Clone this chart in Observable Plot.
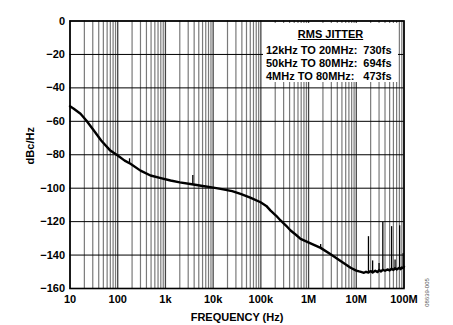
<!DOCTYPE html>
<html><head><meta charset="utf-8">
<script src="https://cdn.jsdelivr.net/npm/d3@7"></script>
<script src="https://cdn.jsdelivr.net/npm/@observablehq/plot@0.6"></script>
<style>
body{margin:0;background:#fff;}
#wrap{position:relative;width:453px;height:325px;font-family:Arial,"Liberation Sans",sans-serif;}
#legend{position:absolute;left:263px;top:23px;width:135px;height:59px;background:#fff;font-weight:bold;font-size:11px;color:#000;}
#legend .row{position:absolute;left:3px;right:6.5px;height:12px;line-height:12px;white-space:nowrap;}
#legend .row .v{position:absolute;right:0;top:0;}
#legend .title{position:absolute;left:0;right:0;text-align:center;height:12px;line-height:12px;}
#legend .title span{text-decoration:underline;}
</style></head><body><div id="wrap"></div>
<script>
const freqHz = [10, 12, 16.6, 22, 31.6, 45, 70, 100, 140, 185, 300, 487, 800, 1280, 2000, 3880, 6000, 8800, 14300, 25000, 37500, 60000, 98600, 130000, 160000, 210000, 259000, 340000, 420000, 550000, 680000, 1.1e6, 1.79e6, 2.9e6, 4.69e6, 7.6e6, 1e7, 1.15e7, 1.3e7, 1.45e7, 1.6e7, 1.8e7, 2e7, 2.2e7, 2.5e7, 2.8e7, 3e7, 3.3e7, 3.6e7, 4e7, 4.5e7, 5e7, 5.5e7, 6e7, 6.5e7, 7e7, 8e7, 8.5e7, 9e7, 9.5e7, 1e8];
const phaseNoise = [-51, -52.5, -55.5, -59.5, -65.5, -71.5, -77.5, -80.5, -83.5, -85.4, -89.5, -92.4, -94, -95.4, -96.5, -97.8, -98.7, -99.4, -100.4, -101.8, -103.4, -105.6, -108.4, -110.6, -113.4, -116.5, -119.3, -122.5, -125.3, -128, -130.3, -133, -135.7, -139.5, -143.5, -147.6, -149.3, -149.8, -150.2, -150.6, -150, -150.5, -149.6, -150.4, -149.4, -150.2, -149, -149.8, -148.8, -149.4, -148.6, -149.2, -148.2, -148.9, -147.8, -148.6, -147.6, -148.4, -147.4, -147.8, -147];
const spikeFreq = [177, 3750, 1.79e6, 1.8e7, 2.2e7, 3e7, 3.6e7, 5.5e7, 6.5e7, 8.1e7, 9.6e7];
const spikeBase = [-85, -97.6, -135.7, -150.3, -150, -149.6, -148.8, -148.2, -147.8, -147.6, -147.2];
const spikeTop = [-82.4, -92.4, -133.7, -129, -143.5, -145, -120.5, -123, -143, -122.5, -139];
const xTicks = [10, 100, 1e3, 1e4, 1e5, 1e6, 1e7, 1e8];
const xTickLabels = ["10", "100", "1k", "10k", "100k", "1M", "10M", "100M"];
const yTicks = [0, -20, -40, -60, -80, -100, -120, -140, -160];
const yTickLabels = ["0", "−20", "−40", "−60", "−80", "−100", "−120", "−140", "−160"];
const legendTitle = "RMS JITTER";
const jitterRanges = ["12kHz TO 20MHz:", "50kHz TO 80MHz:", "4MHz TO 80MHz:"];
const jitterValues = ["730fs", "694fs", "473fs"];
const xLabel = "FREQUENCY (Hz)";
const yLabel = "dBc/Hz";
const figCode = "08639-005";

const curve = freqHz.map((f, i) => ({f, db: phaseNoise[i]}));
const spikes = spikeFreq.map((f, i) => ({f, base: spikeBase[i], top: spikeTop[i]}));
const minorTicks = [];
for (let e = 1; e < 8; e++) for (let k = 2; k <= 9; k++) minorTicks.push(k * 10 ** e);

const font = 'Arial, "Liberation Sans", sans-serif';
const chart = Plot.plot({
  width: 453, height: 325,
  marginLeft: 69.5, marginRight: 49.5, marginTop: 20.5, marginBottom: 37,
  x: {type: "log", domain: [10, 1e8]},
  y: {domain: [-160, 0]},
  style: {fontFamily: font, fontSize: "11px", fontWeight: "bold", color: "#000", background: "#fff", overflow: "visible"},
  marks: [
    Plot.ruleX(minorTicks, {stroke: "#7a7a7a", strokeWidth: 1.2, strokeOpacity: 1}),
    Plot.ruleX(xTicks, {stroke: "#444", strokeWidth: 1.3, strokeOpacity: 1}),
    Plot.ruleY(yTicks, {stroke: "#000", strokeWidth: 1}),
    Plot.line(curve, {x: "f", y: "db", stroke: "#000", strokeWidth: 2.4}),
    Plot.ruleX(spikes, {x: "f", y1: "base", y2: "top", stroke: "#000", strokeWidth: 1.3}),
    Plot.frame({stroke: "#000", strokeWidth: 1.6}),
    Plot.axisX(xTicks, {tickSize: 0, tickPadding: 7, tickFormat: d => xTickLabels[xTicks.indexOf(d)], label: null, fontWeight: "bold"}),
    Plot.axisY(yTicks, {tickSize: 0, tickPadding: 5, tickFormat: d => yTickLabels[yTicks.indexOf(d)], label: null, fontWeight: "bold"}),
    Plot.text([xLabel], {text: d => d, frameAnchor: "bottom", lineAnchor: "middle", textAnchor: "middle", dy: 28.5, fontSize: 11, fontWeight: "bold"}),
    Plot.text([yLabel], {text: d => d, frameAnchor: "left", lineAnchor: "middle", textAnchor: "middle", rotate: -90, dx: -39.5, dy: -9, fontSize: 11, fontWeight: "bold"}),
    Plot.text([figCode], {text: d => d, frameAnchor: "bottom-right", lineAnchor: "middle", textAnchor: "middle", rotate: -90, dx: 23.2, dy: 4, fontSize: 6, fontWeight: "normal", fill: "#555"})
  ]
});
const wrap = document.getElementById("wrap");
wrap.appendChild(chart);
const lg = document.createElement("div");
lg.id = "legend";
let html = `<div class="title" style="top:4.7px"><span>${legendTitle}</span></div>`;
const tops = [21.3, 34, 47.3];
jitterRanges.forEach((r, i) => {
  html += `<div class="row" style="top:${tops[i]}px">${r}<span class="v">${jitterValues[i]}</span></div>`;
});
lg.innerHTML = html;
wrap.appendChild(lg);
</script></body></html>
